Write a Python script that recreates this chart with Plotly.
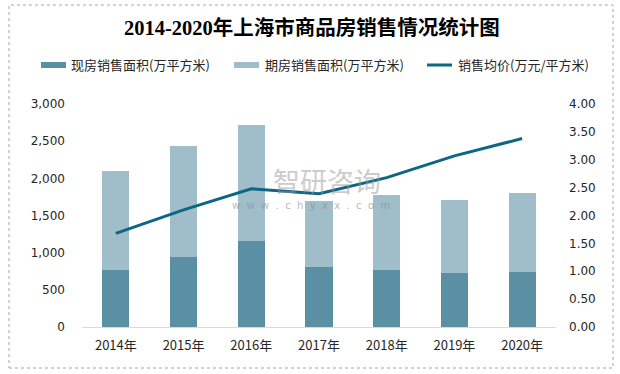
import plotly.graph_objects as go

years = ["2014年", "2015年", "2016年", "2017年", "2018年", "2019年", "2020年"]
spot_area = [770, 946, 1162, 811, 770, 730, 743]
total_area = [2095, 2432, 2716, 1689, 1770, 1703, 1797]
future_area = [t - s for t, s in zip(total_area, spot_area)]
avg_price = [1.68, 2.10, 2.48, 2.39, 2.68, 3.07, 3.38]

left_ticks = [0, 500, 1000, 1500, 2000, 2500, 3000]
right_ticks = [0, 0.5, 1, 1.5, 2, 2.5, 3, 3.5, 4]

names = ["现房销售面积(万平方米)", "期房销售面积(万平方米)", "销售均价(万元/平方米)"]
c_dark = "#5B8FA4"
c_light = "#A0BDCA"
c_line = "#0C6684"

W, H = 620, 374
L, R, T, B = 82, 64, 104, 47
pw, ph = W - L - R, H - T - B

def px(x):
    return (x - L) / pw

def py(y):
    return (H - B - y) / ph

fig = go.Figure()
fig.add_trace(go.Bar(x=years, y=spot_area, name=names[0], marker_color=c_dark,
                     marker_line_width=0, width=0.4, showlegend=False, hoverinfo="skip"))
fig.add_trace(go.Bar(x=years, y=future_area, name=names[1], marker_color=c_light,
                     marker_line_width=0, width=0.4, showlegend=False, hoverinfo="skip"))
fig.add_trace(go.Scatter(x=years, y=avg_price, name=names[2], yaxis="y2", mode="lines",
                         line=dict(color=c_line, width=3), showlegend=False, hoverinfo="skip"))

tick_font = dict(family="DejaVu Sans, Verdana, sans-serif", size=12, color="#262626")

fig.update_layout(
    width=W, height=H,
    margin=dict(l=L, r=R, t=T, b=B),
    paper_bgcolor="white", plot_bgcolor="white",
    barmode="stack",
    bargap=0.6,
    xaxis=dict(showgrid=False, showline=True, linecolor="#d9d9d9", linewidth=1,
               ticks="", tickfont=dict(family="Noto Sans CJK SC, sans-serif", size=13, color="#262626"),
               ticklabelstandoff=6),
    yaxis=dict(range=[0, 3000], tickvals=left_ticks, tickformat=",", showgrid=False,
               zeroline=False, showline=False, ticks="", tickfont=tick_font,
               ticklabelstandoff=16),
    yaxis2=dict(range=[0, 4], tickvals=right_ticks, tickformat=".2f", overlaying="y", side="right",
                showgrid=False, zeroline=False, showline=False, ticks="", tickfont=tick_font,
                ticklabelstandoff=12),
    showlegend=False,
)

# title
fig.add_annotation(text="<b>2014-2020年上海市商品房销售情况统计图</b>", xref="paper", yref="paper",
                   x=px(312), y=py(28), showarrow=False, xanchor="center", yanchor="middle",
                   font=dict(family="Liberation Serif, Noto Sans CJK SC, serif", size=20.5, color="#000000"))

# custom legend
leg_y = 65
items = [(41, 66, 69, names[0], "bar", c_dark),
         (234, 259, 263, names[1], "bar", c_light),
         (427, 452, 456, names[2], "line", c_line)]
for x0, x1, xt, txt, kind, col in items:
    if kind == "bar":
        fig.add_shape(type="rect", xref="paper", yref="paper", x0=px(x0), x1=px(x1),
                      y0=py(leg_y + 3), y1=py(leg_y - 3), fillcolor=col, line_width=0)
    else:
        fig.add_shape(type="line", xref="paper", yref="paper", x0=px(x0), x1=px(x1),
                      y0=py(leg_y), y1=py(leg_y), line=dict(color=col, width=3))
    fig.add_annotation(text=txt, xref="paper", yref="paper", x=px(xt), y=py(leg_y),
                       showarrow=False, xanchor="left", yanchor="middle",
                       font=dict(family="Noto Sans CJK SC, sans-serif", size=13, color="#262626"))

# watermark
fig.add_annotation(text="智研咨询", xref="paper", yref="paper", x=px(327), y=py(180),
                   showarrow=False, xanchor="center", yanchor="middle", opacity=0.5,
                   font=dict(family="Noto Sans CJK SC, sans-serif", size=27, color="#9a9a9a"))
fig.add_annotation(text="w  w  w  .  c  h  y  x  x  .  c  o  m", xref="paper", yref="paper",
                   x=px(311), y=py(205),
                   showarrow=False, xanchor="center", yanchor="middle", opacity=0.6,
                   font=dict(family="DejaVu Sans, sans-serif", size=10, color="#8a8a8a"))

# outer border
fig.add_shape(type="rect", xref="paper", yref="paper", x0=px(9), x1=px(613), y0=py(368), y1=py(5),
              line=dict(color="#a6a6a6", width=1, dash="dot"), fillcolor="rgba(0,0,0,0)", layer="below")

fig.write_html("out.html", config={"displayModeBar": False, "staticPlot": True},
               post_script="document.body.style.margin='0';document.body.style.overflow='hidden';")
